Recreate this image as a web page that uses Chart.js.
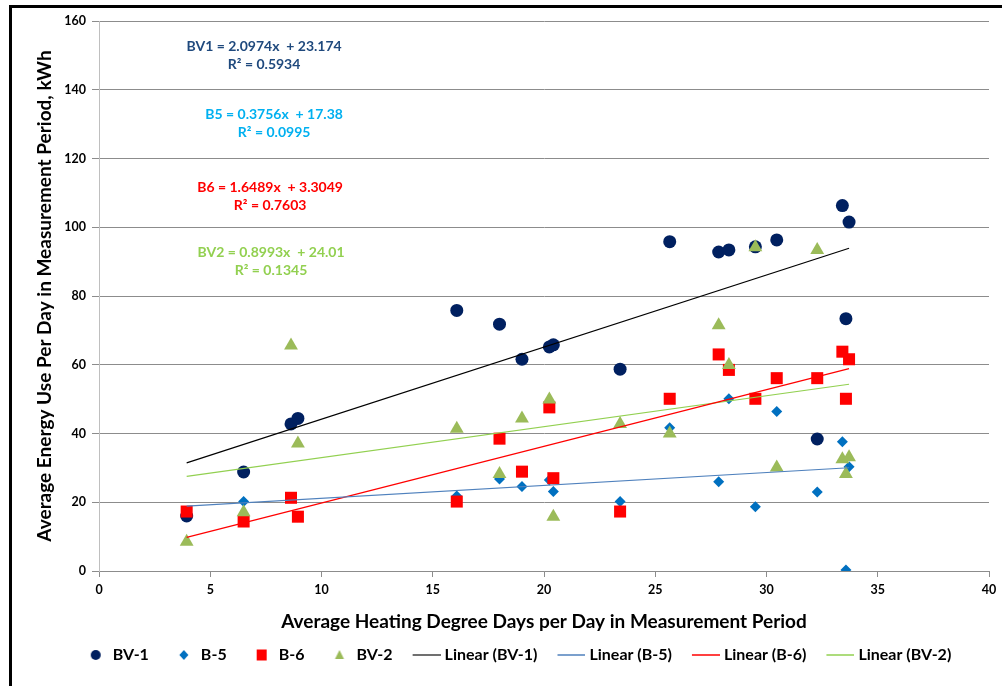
<!DOCTYPE html>
<html>
<head>
<meta charset="utf-8">
<script src="https://cdn.jsdelivr.net/npm/chart.js@4.4.1/dist/chart.umd.min.js"></script>
<style>
  html, body { margin: 0; padding: 0; background: #fff; }
  #wrap { position: relative; width: 1002px; height: 686px; }
</style>
</head>
<body>
<div id="wrap"><canvas id="chart" width="1002" height="686"></canvas></div>
<script>
// Average heating degree days per day (shared by all four buildings)
const hdd = [3.94, 6.5, 8.63, 8.94, 16.08, 18.0, 19.01, 20.24, 20.42, 23.42,
  25.65, 27.85, 28.31, 29.5, 30.46, 32.28, 33.41, 33.57, 33.71]

// Average energy use per day, kWh
const bv1 = [16.0, 28.8, 42.8, 44.4, 75.8, 71.8, 61.6, 65.2, 65.8, 58.7,
  95.8, 92.8, 93.4, 94.3, 96.3, 38.4, 106.3, 73.4, 101.5]
const b5 = [17.3, 20.2, 21.3, 15.8, 21.8, 26.8, 24.6, 26.5, 23.1, 20.2,
  41.7, 26.0, 50.1, 18.7, 46.4, 23.0, 37.6, 0.3, 30.3]
const b6 = [17.3, 14.4, 21.3, 15.8, 20.2, 38.5, 28.9, 47.6, 27.0, 17.3,
  50.1, 63.0, 58.5, 50.1, 56.1, 56.1, 63.8, 50.1, 61.6]
const bv2 = [8.5, 17.1, 65.6, 37.1, 41.4, 28.2, 44.4, 49.9, 15.8, 42.8,
  40.0, 71.5, 59.9, 94.2, 30.1, 93.4, 32.5, 28.2, 33.1]

const seriesNames = ["BV-1", "B-5", "B-6", "BV-2"]

// Linear fits as printed on the chart
const fitNames = ["BV1", "B5", "B6", "BV2"]
const fitSlopes = [2.0974, 0.3756, 1.6489, 0.8993]
const fitIntercepts = [23.174, 17.38, 3.3049, 24.01]
const fitR2 = ["0.5934", "0.0995", "0.7603", "0.1345"]

const xTicks = [0, 5, 10, 15, 20, 25, 30, 35, 40]
const yTicks = [0, 20, 40, 60, 80, 100, 120, 140, 160]

const FONT = "Lato, 'Open Sans', Arial, sans-serif"
const markerColors = ["#002060", "#0070C0", "#FF0000", "#9BBB59"]
const markerStyles = ["circle", "rectRot", "rect", "triangle"]
const markerRadius = [6.5, 5.5, 8.5, 8]
const fitColors = ["#000000", "#4F81BD", "#FF0000", "#92D050"]
const fitTextColors = ["#1F497D", "#00B0F0", "#FF0000", "#92D050"]

const seriesValues = [bv1, b5, b6, bv2]
const toPoints = ys => hdd.map((x, i) => ({ x, y: ys[i] }))
const xMin = Math.min(...hdd)
const xMax = Math.max(...hdd)

const markerSets = seriesValues.map((ys, i) => ({
  label: seriesNames[i],
  data: toPoints(ys),
  pointStyle: markerStyles[i],
  pointRadius: markerRadius[i],
  pointHoverRadius: markerRadius[i],
  backgroundColor: markerColors[i],
  borderColor: markerColors[i],
  borderWidth: 0,
  order: 10 - i,
}))

const fitSets = fitSlopes.map((m, i) => ({
  label: "Linear (" + seriesNames[i] + ")",
  data: [
    { x: xMin, y: m * xMin + fitIntercepts[i] },
    { x: xMax, y: m * xMax + fitIntercepts[i] },
  ],
  showLine: true,
  pointRadius: 0,
  borderColor: fitColors[i],
  backgroundColor: fitColors[i],
  borderWidth: 1.2,
  order: 0,
}))

// small legend icons so markers and lines get their own spacing
function legendIcon(i, isLine) {
  const c = document.createElement("canvas")
  c.width = 38
  c.height = 14
  const g = c.getContext("2d")
  if (isLine) {
    g.strokeStyle = fitColors[i] === "#000000" ? "#404040" : fitColors[i]
    g.lineWidth = 1.5
    g.beginPath()
    g.moveTo(10, 7)
    g.lineTo(38, 7)
    g.stroke()
    return c
  }
  const cx = 25, cy = 7
  g.fillStyle = markerColors[i]
  g.beginPath()
  if (i === 0) {
    g.arc(cx, cy, 5, 0, Math.PI * 2)
  } else if (i === 1) {
    g.moveTo(cx, cy - 5); g.lineTo(cx + 4.5, cy); g.lineTo(cx, cy + 5); g.lineTo(cx - 4.5, cy)
  } else if (i === 2) {
    g.rect(cx - 5, cy - 5.5, 10, 11)
  } else {
    g.moveTo(cx, cy - 5); g.lineTo(cx + 4.5, cy + 4); g.lineTo(cx - 4.5, cy + 4)
  }
  g.closePath()
  g.fill()
  return c
}

const fitLabelPlugin = {
  id: "fitLabels",
  afterDatasetsDraw(chart, args, opts) {
    const { ctx, scales } = chart
    ctx.save()
    ctx.textAlign = "center"
    ctx.textBaseline = "middle"
    ctx.font = "bold 14px " + FONT
    opts.at.forEach((p, i) => {
      const x = scales.x.getPixelForValue(p[0])
      const y = scales.y.getPixelForValue(p[1])
      ctx.fillStyle = fitTextColors[i]
      ctx.fillText(fitNames[i] + " = " + fitSlopes[i] + "x  + " + fitIntercepts[i], x, y)
      ctx.fillText("R\u00B2 = " + fitR2[i], x, y + 18)
    })
    ctx.restore()
  }
}

const framePlugin = {
  id: "frame",
  beforeDraw(chart) {
    const ctx = chart.ctx
    ctx.save()
    ctx.fillStyle = "#fff"
    ctx.fillRect(0, 0, chart.width, chart.height)
    ctx.fillStyle = "#000"
    ctx.fillRect(9, 5, 3, chart.height - 5)
    ctx.fillRect(9, 5, chart.width - 9, 3)
    ctx.restore()
  }
}

new Chart(document.getElementById("chart"), {
  type: "scatter",
  data: { datasets: [...markerSets, ...fitSets] },
  plugins: [framePlugin, fitLabelPlugin],
  options: {
    responsive: false,
    animation: false,
    layout: { padding: { left: 37, right: 13, top: 21, bottom: 13 } },
    plugins: {
      tooltip: { enabled: false },
      fitLabels: { at: [[7.42, 152.7], [7.87, 132.9], [7.69, 111.7], [7.73, 92.8]] },
      legend: {
        position: "bottom",
        labels: {
          usePointStyle: true,
          pointStyleWidth: 30,
          padding: 14,
          color: "#000",
          font: { family: FONT, size: 16, weight: "bold" },
          generateLabels: chart => chart.data.datasets.map((ds, i) => ({
            text: ds.label,
            pointStyle: legendIcon(i % 4, i >= 4),
            fillStyle: "transparent",
            strokeStyle: "transparent",
            lineWidth: 0,
            fontColor: "#000",
            hidden: false,
            datasetIndex: i,
          })),
        },
      },
    },
    scales: {
      x: {
        type: "linear",
        min: 0,
        max: 40,
        afterBuildTicks: s => { s.ticks = xTicks.map(v => ({ value: v })) },
        afterFit: s => { s.height = 62 },
        ticks: { color: "#000", padding: 5, font: { family: FONT, size: 12.5, weight: "bold" } },
        grid: { drawOnChartArea: false, tickLength: 6, color: "#8c8c8c" },
        border: { color: "#8c8c8c" },
        title: {
          display: true,
          text: "Average Heating Degree Days per Day in Measurement Period",
          color: "#000",
          padding: { top: 0, bottom: 0 },
          font: { family: FONT, size: 19, weight: "bold" },
        },
      },
      y: {
        min: 0,
        max: 160,
        afterBuildTicks: s => { s.ticks = yTicks.map(v => ({ value: v })) },
        afterFit: s => { s.width = 62 },
        ticks: { color: "#000", padding: 6, font: { family: FONT, size: 12.5, weight: "bold" } },
        grid: { color: "#8c8c8c", tickLength: 7 },
        border: { color: "#bfbfbf" },
        title: {
          display: true,
          text: "Average Energy Use Per Day in Measurement Period, kWh",
          color: "#000",
          padding: { top: -3.5, bottom: 0 },
          font: { family: FONT, size: 19, weight: "bold" },
        },
      },
    },
  },
})
</script>
</body>
</html>
